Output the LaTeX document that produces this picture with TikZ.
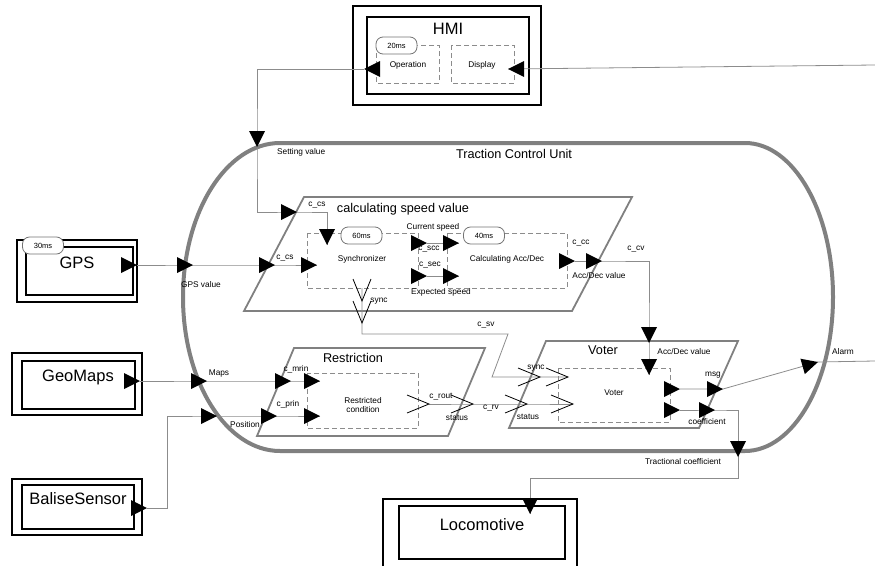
\documentclass[tikz,border=0pt]{standalone}
\usepackage{fontspec}
\setmainfont{Liberation Sans}
\begin{document}
\begin{tikzpicture}[x=1pt,y=-1pt,
  conn/.style={draw=black!45, line width=0.8pt},
  tcu/.style={draw=black!50, line width=4pt},
  para/.style={draw=black!50, line width=1.8pt, line join=miter},
  dbox/.style={draw=black!45, line width=0.8pt, dash pattern=on 5pt off 3pt},
  outerbox/.style={draw=black, line width=2pt, inner sep=0pt},
  innerbox/.style={draw=black, line width=2.4pt, inner sep=0pt},
  big/.style={font=\fontsize{16.5}{19}\selectfont, inner sep=0pt},
  title/.style={font=\fontsize{12.7}{15}\selectfont, inner sep=0pt},
  lbl/.style={font=\fontsize{8.3}{10}\selectfont, inner sep=0pt},
  tagbox/.style={draw=black!55, line width=0.8pt, fill=white, rounded corners=7pt, inner sep=0pt, minimum width=41pt, minimum height=17pt, font=\fontsize{7.5}{9}\selectfont},
  port/.pic={\fill[black] (0,0) -- (-16,-8) -- (-16,8) -- cycle;},
  openv/.pic={\draw[black, line width=0.8pt] (-22,-9) -- (0,0) -- (-22,9);},
]
\useasboundingbox (0,0) rectangle (875,565);

% Traction Control Unit
\draw[tcu] (280,143) -- (745,143) .. controls (793.6,143) and (833,212) .. (833,297)
  .. controls (833,382) and (793.6,451) .. (745,451) -- (280,451)
  .. controls (226.4,451) and (183,382) .. (183,297)
  .. controls (183,212) and (226.4,143) .. (280,143) -- cycle;

% parallelograms
\draw[para] (304,197) -- (632,197) -- (572,311) -- (244,311) -- cycle;
\draw[para] (294,348) -- (485,348) -- (448,436) -- (257,436) -- cycle;
\draw[para] (546,341) -- (738,341) -- (699,428) -- (509,428) -- cycle;

% external double boxes
\node[outerbox, minimum width=188pt, minimum height=99pt] (hmiO) at (447,55.5) {};
\node[innerbox, minimum width=162pt, minimum height=77pt] (hmiI) at (448,55.5) {};
\node[outerbox, minimum width=120pt, minimum height=62pt] (gpsO) at (77,271) {};
\node[innerbox, minimum width=107pt, minimum height=48pt] (gpsI) at (79.5,271) {};
\node[outerbox, minimum width=130pt, minimum height=62pt] (geoO) at (77,384) {};
\node[innerbox, minimum width=113pt, minimum height=48pt] (geoI) at (78.5,385) {};
\node[outerbox, minimum width=130pt, minimum height=56pt] (balO) at (77,507) {};
\node[innerbox, minimum width=112pt, minimum height=44pt] (balI) at (78,507) {};
\node[outerbox, minimum width=194pt, minimum height=76pt] (locO) at (480,537) {};
\node[innerbox, minimum width=166pt, minimum height=53pt] (locI) at (482,532.5) {};

% dashed process boxes
\draw[dbox] (376,45) rectangle (439,83);
\draw[dbox] (451,45) rectangle (514,83);
\draw[dbox] (307,233) rectangle (418,288);
\draw[dbox] (447,233) rectangle (567,288);
\draw[dbox] (307,373) rectangle (418,428);
\draw[dbox] (558,368) rectangle (670,422);

% port coordinates
\coordinate (opT) at (364,69);
\coordinate (dispT) at (508,69);
\coordinate (rightIn) at (875,65);
\coordinate (tcuS) at (257,147);
\coordinate (csvS) at (297,212);
\coordinate (syncS) at (327,245);
\coordinate (gpsP) at (137,265);
\coordinate (tcuG) at (193,265);
\coordinate (csvG) at (275,265);
\coordinate (syncG) at (317,265);
\coordinate (geoP) at (140,381);
\coordinate (tcuM) at (207,381);
\coordinate (resM) at (291,381);
\coordinate (rcM) at (320,381);
\coordinate (balP) at (147,508);
\coordinate (tcuP) at (217,416);
\coordinate (resP) at (277,416);
\coordinate (rcP) at (320,416);
\coordinate (sccA) at (427,243);
\coordinate (sccB) at (459,243);
\coordinate (secA) at (427,276);
\coordinate (secB) at (459,276);
\coordinate (ccA) at (575,261);
\coordinate (ccB) at (602,261);
\coordinate (vAccA) at (649,343);
\coordinate (vAccB) at (649,375);
\coordinate (syncOut) at (362,288);
\coordinate (svA) at (362,301);
\coordinate (svB) at (362,323);
\coordinate (vsA) at (540,377);
\coordinate (vsB) at (568,377);
\coordinate (rrA) at (429,404);
\coordinate (rrB) at (473,404);
\coordinate (vstA) at (527,404);
\coordinate (vstB) at (573,404);
\coordinate (msgA) at (680,389);
\coordinate (msgB) at (723,389);
\coordinate (alarmT) at (818,362);
\coordinate (alarmOut) at (875,361);
\coordinate (coA) at (680,410);
\coordinate (coB) at (715,410);
\coordinate (tcuC) at (738,457);
\coordinate (locT) at (530,514);

% connectors
\draw[conn] (rightIn) -- (dispT);
\draw[conn] (opT) -- (257,69) -- (tcuS) -- (257,212) -- (csvS) -- (327,212) -- (syncS);
\draw[conn] (gpsP) -- (tcuG) -- (csvG) -- (syncG);
\draw[conn] (geoP) -- (tcuM) -- (resM) -- (rcM);
\draw[conn] (balP) -- (167,508) -- (167,416) -- (tcuP) -- (resP) -- (rcP);
\draw[conn] (sccA) -- (sccB);
\draw[conn] (secA) -- (secB);
\draw[conn] (ccA) -- (ccB) -- (649,261) -- (vAccA) -- (vAccB);
\draw[conn] (syncOut) -- (svA) -- (svB) -- (362,334) -- (508,334) -- (492,377) -- (vsA) -- (vsB);
\draw[conn] (rrA) -- (rrB) -- (vstA) -- (vstB);
\draw[conn] (msgA) -- (msgB) -- (alarmT) -- (alarmOut);
\draw[conn] (coA) -- (coB) -- (738,410) -- (tcuC) -- (738,478) -- (530,478) -- (locT);

% timing tags
\node[tagbox] (t20) at (396.5,45.5) {20ms};
\node[tagbox] (t30) at (43,245.5) {30ms};
\node[tagbox] (t60) at (361.5,235.5) {60ms};
\node[tagbox] (t40) at (484,235.5) {40ms};

% port markers
\pic[rotate=180] at (opT) {port};
\pic[rotate=180] at (dispT) {port};
\pic[rotate=-90] at (tcuS) {port};
\pic at (csvS) {port};
\pic[rotate=-90] at (syncS) {port};
\pic at (gpsP) {port};
\pic at (tcuG) {port};
\pic at (csvG) {port};
\pic at (syncG) {port};
\pic at (geoP) {port};
\pic at (tcuM) {port};
\pic at (resM) {port};
\pic at (rcM) {port};
\pic at (balP) {port};
\pic at (tcuP) {port};
\pic at (resP) {port};
\pic at (rcP) {port};
\pic at (sccA) {port};
\pic at (sccB) {port};
\pic at (secA) {port};
\pic at (secB) {port};
\pic at (ccA) {port};
\pic at (ccB) {port};
\pic[rotate=-90] at (vAccA) {port};
\pic[rotate=-90] at (vAccB) {port};
\pic at (msgA) {port};
\pic at (msgB) {port};
\pic[rotate=16] at (alarmT) {port};
\pic at (coA) {port};
\pic at (coB) {port};
\pic[rotate=-90] at (tcuC) {port};
\pic[rotate=-90] at (locT) {port};
\pic[rotate=-90] at (svA) {openv};
\pic[rotate=-90] at (svB) {openv};
\pic at (vsA) {openv};
\pic at (vsB) {openv};
\pic at (rrA) {openv};
\pic at (rrB) {openv};
\pic at (vstA) {openv};
\pic at (vstB) {openv};

% big labels
\node[big] (hmiT) at (448,29) {HMI};
\node[big] (gpsT) at (77,263) {GPS};
\node[big] (geoT) at (78,377) {GeoMaps};
\node[big] (balT) at (78,499) {BaliseSensor};
\node[big] (locTx) at (482,525) {Locomotive};

% titles
\node[title] (tcuT) at (514,154) {Traction Control Unit};
\node[title] (csvT) at (403,209) {calculating speed value};
\node[title] (resT) at (353,358) {Restriction};
\node[title] (votT) at (603,350) {Voter};

% small labels
\node[lbl] (l1) at (408,65) {Operation};
\node[lbl] (l2) at (482,65) {Display};
\node[lbl, anchor=west] (l3) at (277,152) {Setting value};
\node[lbl] (l4) at (317,205) {c\_cs};
\node[lbl] (l5) at (285,258) {c\_cs};
\node[lbl] (l6) at (201,285) {GPS value};
\node[lbl] (l7) at (433,227) {Current speed};
\node[lbl] (l8) at (429,249) {c\_scc};
\node[lbl] (l9) at (430,265) {c\_sec};
\node[lbl] (l10) at (441,292) {Expected speed};
\node[lbl] (l11) at (362,259) {Synchronizer};
\node[lbl] (l12) at (507,259) {Calculating Acc/Dec};
\node[lbl] (l13) at (581,243) {c\_cc};
\node[lbl] (l14) at (636,249) {c\_cv};
\node[lbl] (l15) at (599,276) {Acc/Dec value};
\node[lbl] (l16) at (379,301) {sync};
\node[lbl] (l17) at (486,325) {c\_sv};
\node[lbl] (l18) at (296,369) {c\_mrin};
\node[lbl] (l19) at (288,404) {c\_prin};
\node[lbl] (l20) at (219,373) {Maps};
\node[lbl] (l21) at (245,425) {Position};
\node[lbl, align=center] (l22) at (363,405) {Restricted\\[-0.5pt]condition};
\node[lbl] (l23) at (441,397) {c\_rout};
\node[lbl] (l24) at (457,418) {status};
\node[lbl] (l25) at (491,408) {c\_rv};
\node[lbl] (l26) at (536,368) {sync};
\node[lbl] (l27) at (528,417) {status};
\node[lbl] (l28) at (684,352) {Acc/Dec value};
\node[lbl] (l29) at (614,393) {Voter};
\node[lbl] (l30) at (713,375) {msg};
\node[lbl] (l31) at (707,422) {coefficient};
\node[lbl] (l32) at (843,352) {Alarm};
\node[lbl] (l33) at (683,462) {Tractional coefficient};
\end{tikzpicture}
\end{document}
